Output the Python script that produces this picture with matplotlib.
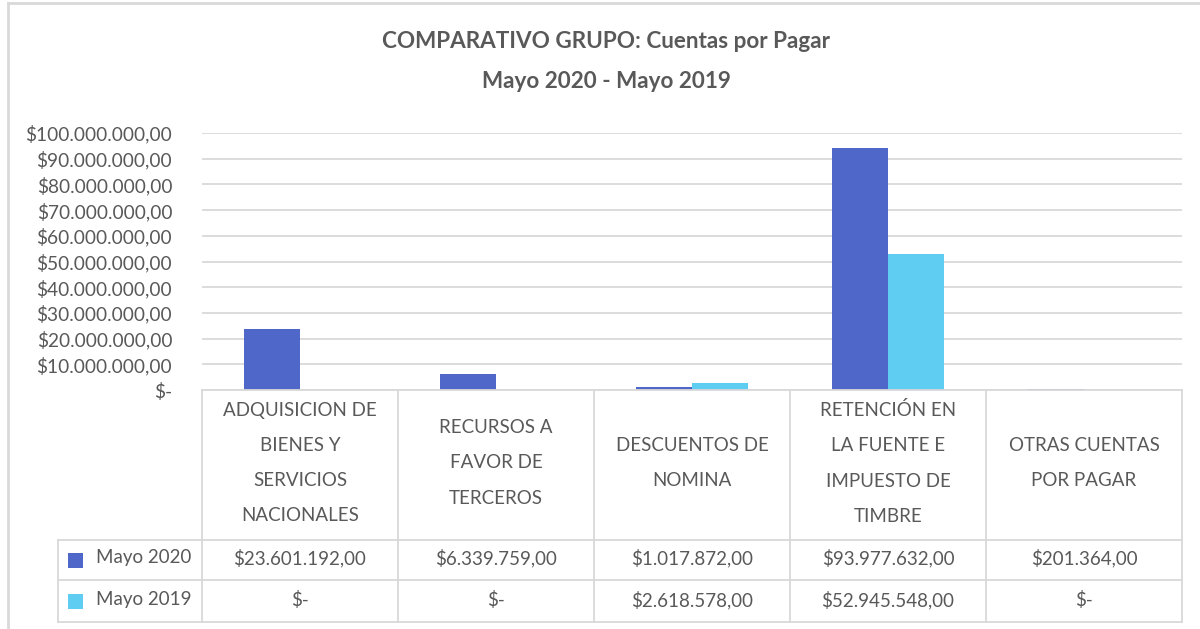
import matplotlib.pyplot as plt
from matplotlib.lines import Line2D
from matplotlib.patches import Rectangle
import numpy as np

categories = [
    "ADQUISICION DE\nBIENES Y\nSERVICIOS\nNACIONALES",
    "RECURSOS A\nFAVOR DE\nTERCEROS",
    "DESCUENTOS DE\nNOMINA",
    "RETENCIÓN EN\nLA FUENTE E\nIMPUESTO DE\nTIMBRE",
    "OTRAS CUENTAS\nPOR PAGAR",
]
series_names = ["Mayo 2020", "Mayo 2019"]
mayo_2020 = [23601192, 6339759, 1017872, 93977632, 201364]
mayo_2019 = [0, 0, 2618578, 52945548, 0]
y_ticks = [0, 10e6, 20e6, 30e6, 40e6, 50e6, 60e6, 70e6, 80e6, 90e6, 100e6]

colors = ["#4F67C8", "#5FCDF2"]
text_color = "#595959"
grid_color = "#D9D9D9"

W, H = 1200, 629
plt.rcParams["font.family"] = ["Lato", "DejaVu Sans"]


def money(v):
    """Format a value the way the Excel sheet does: $1.234,00 or $-"""
    if v == 0:
        return "$-"
    s = f"{v:,.2f}"
    return "$" + s.replace(",", "X").replace(".", ",").replace("X", ".")


def fx(px):
    return px / W


def fy(py):
    return 1 - py / H


fig = plt.figure(figsize=(12, 6.29), dpi=100)

# plot area
left, right, top, bottom = 202, 1182, 133, 390
ax = fig.add_axes([fx(left), fy(bottom), fx(right - left), fy(top) - fy(bottom)])

x = np.arange(len(categories))
bw = 0.285
ax.bar(x - bw / 2, mayo_2020, bw, color=colors[0], label=series_names[0])
ax.bar(x + bw / 2, mayo_2019, bw, color=colors[1], label=series_names[1])

ax.set_xlim(-0.5, len(categories) - 0.5)
ax.set_ylim(0, 100e6)
ax.set_yticks(y_ticks)
ax.set_yticklabels([money(v) for v in y_ticks], fontsize=13.8, color=text_color)
ax.tick_params(axis="y", length=0, pad=21.5)
ax.set_xticks([])
ax.grid(axis="y", color=grid_color, linewidth=1.3)
ax.set_axisbelow(True)
for s in ax.spines.values():
    s.set_visible(False)

# title
fig.text(fx(606), fy(41), "COMPARATIVO GRUPO: Cuentas por Pagar", ha="center",
         va="center", fontsize=16.2, fontweight="bold", color=text_color)
fig.text(fx(606), fy(82), "Mayo 2020 - Mayo 2019", ha="center",
         va="center", fontsize=16.2, fontweight="bold", color=text_color)

# data table below the plot
col_w = (right - left) / len(categories)
row_top, row_head, row_1, row_2 = 390, 540, 580, 622
leg_left = 58


def hline(x0, x1, y):
    fig.add_artist(Line2D([fx(x0), fx(x1)], [fy(y), fy(y)], color=grid_color, lw=1.3))


def vline(xp, y0, y1):
    fig.add_artist(Line2D([fx(xp), fx(xp)], [fy(y0), fy(y1)], color=grid_color, lw=1.3))


hline(left, right, row_top)
for yy in (row_head, row_1, row_2):
    hline(leg_left, right, yy)
vline(leg_left, row_head, row_2)
for i in range(len(categories) + 1):
    vline(left + i * col_w, row_top, row_2)

for i, cat in enumerate(categories):
    cx = left + (i + 0.5) * col_w
    fig.text(fx(cx), fy((row_top + row_head) / 2 - 2), cat, ha="center", va="center",
             fontsize=13.5, color=text_color, linespacing=2.3)
    fig.text(fx(cx), fy((row_head + row_1) / 2 - 2), money(mayo_2020[i]), ha="center",
             va="center", fontsize=13.5, color=text_color)
    fig.text(fx(cx), fy((row_1 + row_2) / 2 - 1), money(mayo_2019[i]), ha="center",
             va="center", fontsize=13.5, color=text_color)

for name, col, (y0, y1) in zip(series_names, colors, [(row_head, row_1), (row_1, row_2)]):
    cy = (y0 + y1) / 2
    fig.add_artist(Rectangle((fx(68), fy(cy + 7.5)), fx(15), fy(cy - 7.5) - fy(cy + 7.5),
                             facecolor=col, edgecolor="none"))
    fig.text(fx(96), fy(cy - 2), name, ha="left", va="center", fontsize=13.5, color=text_color)

# chart border
fig.add_artist(Line2D([fx(8), fx(8)], [fy(3), 0], color=grid_color, lw=2))
fig.add_artist(Line2D([fx(8), 1], [fy(3), fy(3)], color=grid_color, lw=2))

fig.savefig("out.png", dpi=100)
